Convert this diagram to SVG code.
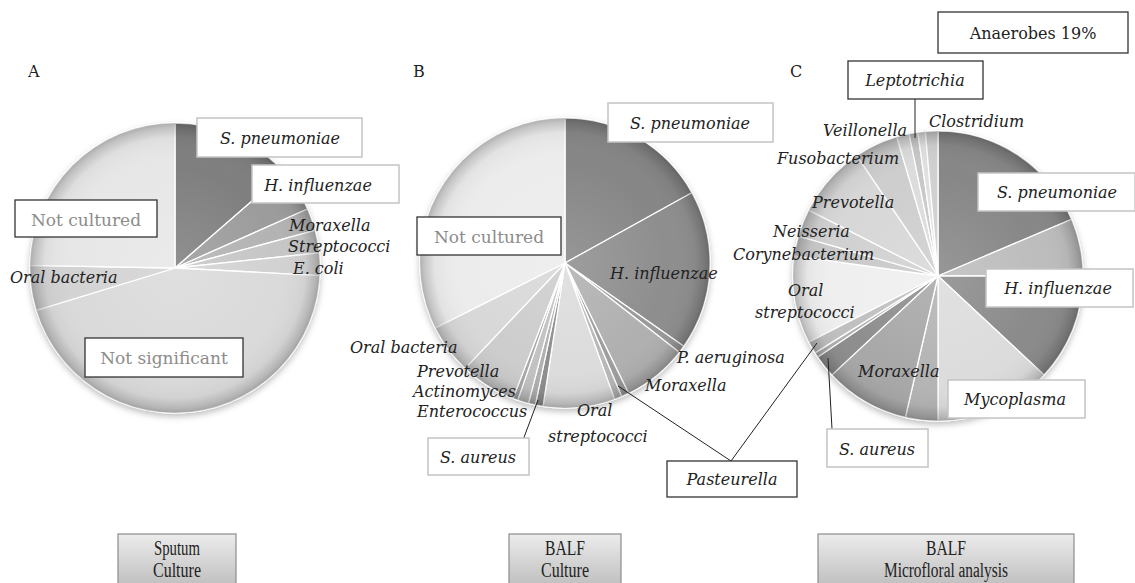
<svg xmlns="http://www.w3.org/2000/svg" width="1135" height="583" viewBox="0 0 1135 583">
<style>
  text{font-family:"DejaVu Serif","Liberation Serif",serif;fill:#222}
  .it{font-style:italic;font-size:16px}
  .reg{font-size:16px}
  .gray{font-size:17px;fill:#8c8c8c}
  .ltr{font-size:16px}
  .bot{font-family:"Liberation Serif",serif;font-size:20px;fill:#222}
  .bl{fill:#fff;stroke:#c4c4c4;stroke-width:1.5}
  .bd{fill:#fff;stroke:#333;stroke-width:1.3}
  .bb{fill:url(#botg);stroke:#8c8c8c;stroke-width:1.2}
  .sl path{stroke:#fff;stroke-width:1.3;stroke-linejoin:round}
  .ov{fill:url(#rim);pointer-events:none}
  .cn{stroke:#222;stroke-width:1;fill:none}
</style>
<defs>
  <radialGradient id="rim" cx="0.5" cy="0.5" r="0.5">
    <stop offset="0" stop-color="#fff" stop-opacity="0.14"/>
    <stop offset="0.7" stop-color="#fff" stop-opacity="0"/>
    <stop offset="0.9" stop-color="#000" stop-opacity="0.04"/>
    <stop offset="0.97" stop-color="#000" stop-opacity="0.17"/>
    <stop offset="1" stop-color="#000" stop-opacity="0.26"/>
  </radialGradient>
  <linearGradient id="botg" x1="0" y1="0" x2="0" y2="1">
    <stop offset="0" stop-color="#ececec"/>
    <stop offset="1" stop-color="#b8b8b8"/>
  </linearGradient>
  <filter id="sh" x="-10%" y="-10%" width="120%" height="125%">
    <feDropShadow dx="0" dy="3" stdDeviation="3" flood-color="#000" flood-opacity="0.25"/>
  </filter>
</defs>
<rect width="1135" height="583" fill="#fff"/>

<!-- Pie A -->
<g id="pieA">
  <g class="sl" filter="url(#sh)">
    <path fill="#7f7f7f" d="M175,268 L175,123 A145,145 0 0 1 284.43,172.87 Z"/>
    <path fill="#9c9c9c" d="M175,268 L284.43,172.87 A145,145 0 0 1 307.46,209.03 Z"/>
    <path fill="#b3b3b3" d="M175,268 L307.46,209.03 A145,145 0 0 1 315.06,230.47 Z"/>
    <path fill="#c6c6c6" d="M175,268 L315.06,230.47 A145,145 0 0 1 319.20,252.85 Z"/>
    <path fill="#d2d2d2" d="M175,268 L319.20,252.85 A145,145 0 0 1 319.80,275.59 Z"/>
    <path fill="#dadada" d="M175,268 L319.80,275.59 A145,145 0 0 1 36.34,310.40 Z"/>
    <path fill="#d3d3d3" d="M175,268 L36.34,310.40 A145,145 0 0 1 30.02,265.46 Z"/>
    <path fill="#e7e7e7" d="M175,268 L30.02,265.46 A145,145 0 0 1 175,123 Z"/>
  </g>
  <circle class="ov" cx="175" cy="268" r="145"/>
</g>

<!-- Pie B -->
<g id="pieB">
  <g class="sl" filter="url(#sh)">
    <path fill="#868686" d="M565,263 L565,118 A145,145 0 0 1 691.82,192.70 Z"/>
    <path fill="#8e8e8e" d="M565,263 L691.82,192.70 A145,145 0 0 1 683.78,346.17 Z"/>
    <path fill="#9a9a9a" d="M565,263 L683.78,346.17 A145,145 0 0 1 679.26,352.28 Z"/>
    <path fill="#b0b0b0" d="M565,263 L679.26,352.28 A145,145 0 0 1 628.57,393.33 Z"/>
    <path fill="#9e9e9e" d="M565,263 L628.57,393.33 A145,145 0 0 1 621.65,396.47 Z"/>
    <path fill="#b8b8b8" d="M565,263 L621.65,396.47 A145,145 0 0 1 614.59,399.26 Z"/>
    <path fill="#dcdcdc" d="M565,263 L614.59,399.26 A145,145 0 0 1 543.06,406.33 Z"/>
    <path fill="#8e8e8e" d="M565,263 L543.06,406.33 A145,145 0 0 1 535.35,404.94 Z"/>
    <path fill="#b0b0b0" d="M565,263 L535.35,404.94 A145,145 0 0 1 528.45,403.32 Z"/>
    <path fill="#c2c2c2" d="M565,263 L528.45,403.32 A145,145 0 0 1 517.79,400.10 Z"/>
    <path fill="#a8a8a8" d="M565,263 L517.79,400.10 A145,145 0 0 1 513.03,398.37 Z"/>
    <path fill="#cdcdcd" d="M565,263 L513.03,398.37 A145,145 0 0 1 465.18,368.18 Z"/>
    <path fill="#d8d8d8" d="M565,263 L465.18,368.18 A145,145 0 0 1 435.34,327.93 Z"/>
    <path fill="#ececec" d="M565,263 L435.34,327.93 A145,145 0 0 1 565,118 Z"/>
  </g>
  <circle class="ov" cx="565" cy="263" r="145"/>
</g>

<!-- Pie C -->
<g id="pieC">
  <g class="sl" filter="url(#sh)">
    <path fill="#878787" d="M938,276 L938,131 A145,145 0 0 1 1071.47,219.35 Z"/>
    <path fill="#bdbdbd" d="M938,276 L1071.47,219.35 A145,145 0 0 1 1083,276 Z"/>
    <path fill="#8b8b8b" d="M938,276 L1083,276 A145,145 0 0 1 1044.05,374.89 Z"/>
    <path fill="#dcdcdc" d="M938,276 L1044.05,374.89 A145,145 0 0 1 938,421 Z"/>
    <path fill="#b4b4b4" d="M938,276 L938,421 A145,145 0 0 1 905.38,417.28 Z"/>
    <path fill="#a8a8a8" d="M938,276 L905.38,417.28 A145,145 0 0 1 831.95,374.89 Z"/>
    <path fill="#8e8e8e" d="M938,276 L831.95,374.89 A145,145 0 0 1 817.80,357.08 Z"/>
    <path fill="#b0b0b0" d="M938,276 L817.80,357.08 A145,145 0 0 1 815.04,352.84 Z"/>
    <path fill="#c0c0c0" d="M938,276 L815.04,352.84 A145,145 0 0 1 808.81,341.83 Z"/>
    <path fill="#efefef" d="M938,276 L808.81,341.83 A145,145 0 0 1 794.41,255.82 Z"/>
    <path fill="#c9c9c9" d="M938,276 L794.41,255.82 A145,145 0 0 1 798.61,236.04 Z"/>
    <path fill="#d1d1d1" d="M938,276 L798.61,236.04 A145,145 0 0 1 808.81,210.17 Z"/>
    <path fill="#d7d7d7" d="M938,276 L808.81,210.17 A145,145 0 0 1 856.92,155.79 Z"/>
    <path fill="#cecece" d="M938,276 L856.92,155.79 A145,145 0 0 1 896.82,136.97 Z"/>
    <path fill="#dcdcdc" d="M938,276 L896.82,136.97 A145,145 0 0 1 909.09,133.91 Z"/>
    <path fill="#c8c8c8" d="M938,276 L909.09,133.91 A145,145 0 0 1 917.82,132.41 Z"/>
    <path fill="#e0e0e0" d="M938,276 L917.82,132.41 A145,145 0 0 1 925.36,131.55 Z"/>
    <path fill="#d0d0d0" d="M938,276 L925.36,131.55 A145,145 0 0 1 938,131 Z"/>
  </g>
  <circle class="ov" cx="938" cy="276" r="145"/>
</g>

<!-- Connectors -->
<g id="connectors">
  <line class="cn" x1="731" y1="461" x2="618" y2="386"/>
  <line class="cn" x1="731" y1="461" x2="817" y2="343"/>
  <line class="cn" x1="523" y1="440" x2="538" y2="400"/>
  <line class="cn" x1="832" y1="429" x2="828" y2="358"/>
  <line class="cn" x1="915" y1="99" x2="915" y2="138" stroke-width="2"/>
</g>

<!-- Panel letters -->
<g id="letters">
  <text class="ltr" x="28" y="77">A</text>
  <text class="ltr" x="413" y="77">B</text>
  <text class="ltr" x="790" y="77">C</text>
</g>

<!-- Labels A -->
<g id="labelsA">
  <g id="a-spn"><rect class="bl" x="197" y="118" width="165" height="39"/><text class="it" x="280" y="144" text-anchor="middle">S. pneumoniae</text></g>
  <g id="a-hin"><rect class="bl" x="252" y="165" width="147" height="38"/><text class="it" x="318" y="191" text-anchor="middle">H. influenzae</text></g>
  <text class="it" x="289" y="231">Moraxella</text>
  <text class="it" x="288" y="252">Streptococci</text>
  <text class="it" x="293" y="274">E. coli</text>
  <g id="a-nc"><rect class="bd" x="15" y="200" width="142" height="37"/><text class="gray" x="86" y="226" text-anchor="middle">Not cultured</text></g>
  <text class="it" x="10" y="283">Oral bacteria</text>
  <g id="a-ns"><rect class="bd" x="85" y="338" width="158" height="39"/><text class="gray" x="164" y="364" text-anchor="middle">Not significant</text></g>
</g>

<!-- Labels B -->
<g id="labelsB">
  <g id="b-spn"><rect class="bl" x="608" y="103" width="165" height="39"/><text class="it" x="690" y="129" text-anchor="middle">S. pneumoniae</text></g>
  <g id="b-nc"><rect class="bd" x="417" y="217" width="144" height="38"/><text class="gray" x="489" y="243" text-anchor="middle">Not cultured</text></g>
  <text class="it" x="610" y="279">H. influenzae</text>
  <text class="it" x="677" y="363">P. aeruginosa</text>
  <text class="it" x="645" y="391">Moraxella</text>
  <text class="it" x="577" y="416">Oral</text>
  <text class="it" x="548" y="442">streptococci</text>
  <text class="it" x="350" y="353">Oral bacteria</text>
  <text class="it" x="417" y="377">Prevotella</text>
  <text class="it" x="413" y="397">Actinomyces</text>
  <text class="it" x="417" y="417">Enterococcus</text>
  <g id="b-sau"><rect class="bl" x="428" y="438" width="101" height="37"/><text class="it" x="478" y="463" text-anchor="middle">S. aureus</text></g>
  <g id="pasteurella"><rect class="bd" x="667" y="461" width="130" height="36"/><text class="it" x="732" y="485" text-anchor="middle">Pasteurella</text></g>
</g>

<!-- Labels C -->
<g id="labelsC">
  <g id="anaerobes"><rect class="bd" x="938" y="12" width="190" height="41"/><text class="reg" x="1033" y="39" text-anchor="middle">Anaerobes 19%</text></g>
  <g id="leptotrichia"><rect class="bd" x="848" y="61" width="135" height="38"/><text class="it" x="915" y="86" text-anchor="middle">Leptotrichia</text></g>
  <text class="it" x="823" y="136">Veillonella</text>
  <text class="it" x="929" y="127">Clostridium</text>
  <text class="it" x="777" y="164">Fusobacterium</text>
  <text class="it" x="812" y="208">Prevotella</text>
  <text class="it" x="773" y="237">Neisseria</text>
  <text class="it" x="733" y="260">Corynebacterium</text>
  <text class="it" x="788" y="296">Oral</text>
  <text class="it" x="755" y="318">streptococci</text>
  <g id="c-spn"><rect class="bl" x="978" y="173" width="157" height="38"/><text class="it" x="1057" y="198" text-anchor="middle">S. pneumoniae</text></g>
  <g id="c-hin"><rect class="bl" x="986" y="269" width="147" height="38"/><text class="it" x="1058" y="294" text-anchor="middle">H. influenzae</text></g>
  <text class="it" x="858" y="377">Moraxella</text>
  <g id="c-myc"><rect class="bl" x="948" y="380" width="137" height="38"/><text class="it" x="1015" y="405" text-anchor="middle">Mycoplasma</text></g>
  <g id="c-sau"><rect class="bl" x="827" y="429" width="101" height="38"/><text class="it" x="877" y="455" text-anchor="middle">S. aureus</text></g>
</g>

<!-- Bottom boxes -->
<g id="box-sputum"><rect class="bb" x="118" y="534" width="118" height="60"/><text class="bot" x="177" y="555" text-anchor="middle" textLength="46" lengthAdjust="spacingAndGlyphs">Sputum</text><text class="bot" x="177" y="577" text-anchor="middle" textLength="48" lengthAdjust="spacingAndGlyphs">Culture</text></g>
<g id="box-balf"><rect class="bb" x="509" y="534" width="112" height="60"/><text class="bot" x="565" y="555" text-anchor="middle" textLength="40" lengthAdjust="spacingAndGlyphs">BALF</text><text class="bot" x="565" y="577" text-anchor="middle" textLength="48" lengthAdjust="spacingAndGlyphs">Culture</text></g>
<g id="box-micro"><rect class="bb" x="818" y="534" width="256" height="60"/><text class="bot" x="946" y="555" text-anchor="middle" textLength="40" lengthAdjust="spacingAndGlyphs">BALF</text><text class="bot" x="946" y="577" text-anchor="middle" textLength="124" lengthAdjust="spacingAndGlyphs">Microfloral analysis</text></g>
</svg>
